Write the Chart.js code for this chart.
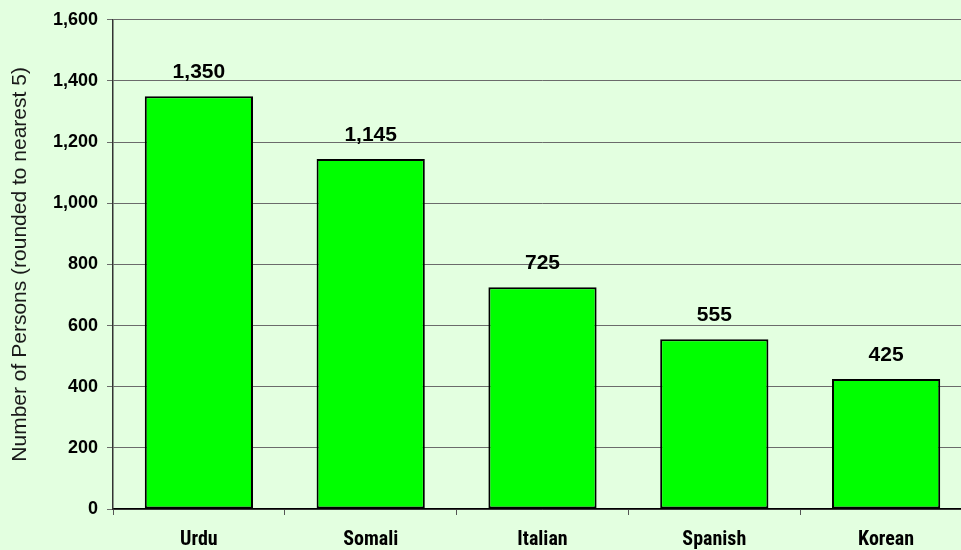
<!DOCTYPE html>
<html>
<head>
<meta charset="utf-8">
<script src="https://cdn.jsdelivr.net/npm/chart.js@4"></script>
<style>
  html, body { margin: 0; padding: 0; overflow: hidden; background: #E3FFE0; }
  #wrap { position: absolute; left: 0; top: 0; width: 972px; height: 550px; }
</style>
</head>
<body>
<div id="wrap"><canvas id="c" width="972" height="550"></canvas></div>
<script>
const categories = ['Urdu', 'Somali', 'Italian', 'Spanish', 'Korean'];
const persons = [1350, 1145, 725, 555, 425];
const yTicks = [0, 200, 400, 600, 800, 1000, 1200, 1400, 1600];
const yTitle = 'Number of Persons (rounded to nearest 5)';

const fmt = v => v.toLocaleString('en-US');

const valueLabels = {
  id: 'valueLabels',
  afterDatasetsDraw(chart) {
    const ctx = chart.ctx;
    const meta = chart.getDatasetMeta(0);
    ctx.save();
    ctx.font = 'bold 21px "Liberation Sans", Arial, sans-serif';
    ctx.fillStyle = '#000';
    ctx.textAlign = 'center';
    ctx.textBaseline = 'middle';
    meta.data.forEach((bar, i) => {
      ctx.fillText(fmt(chart.data.datasets[0].data[i]), bar.x, bar.y - 24);
    });
    ctx.restore();
  }
};

new Chart(document.getElementById('c'), {
  type: 'bar',
  data: {
    labels: categories,
    datasets: [{
      data: persons,
      backgroundColor: '#00FF00',
      borderColor: '#000000',
      borderWidth: 2,
      borderSkipped: false,
      barPercentage: 0.63,
      categoryPercentage: 1.0
    }]
  },
  options: {
    responsive: false,
    animation: false,
    layout: { padding: { top: 18, right: 0, left: 0, bottom: 0 } },
    plugins: { legend: { display: false }, tooltip: { enabled: false } },
    scales: {
      x: {
        offset: true,
        grid: { display: true, drawOnChartArea: false, offset: true, tickLength: 6, color: '#555', lineWidth: 1 },
        border: { display: true, color: '#000', width: 1.5 },
        ticks: {
          padding: 13,
          color: '#000',
          font: { family: '"Roboto Condensed", "Liberation Sans", sans-serif', size: 20, weight: 'bold' }
        },
        afterFit(scale) { scale.height = 41; }
      },
      y: {
        min: 0,
        max: 1600,
        afterBuildTicks(scale) { scale.ticks = yTicks.map(v => ({ value: v })); },
        grid: { color: '#6b6b6b', lineWidth: 1, tickLength: 6 },
        border: { display: true, color: '#333', width: 1.5 },
        ticks: {
          padding: 9,
          color: '#000',
          font: { family: '"Liberation Sans", Arial, sans-serif', size: 18, weight: 'bold' },
          callback: v => fmt(v)
        },
        title: {
          display: true,
          text: yTitle,
          color: '#1a1a1a',
          padding: { top: 8, bottom: 0 },
          font: { family: '"Liberation Sans", Arial, sans-serif', size: 21, weight: 'normal' }
        },
        afterFit(scale) { scale.width = 113; }
      }
    }
  },
  plugins: [valueLabels]
});
</script>
</body>
</html>
